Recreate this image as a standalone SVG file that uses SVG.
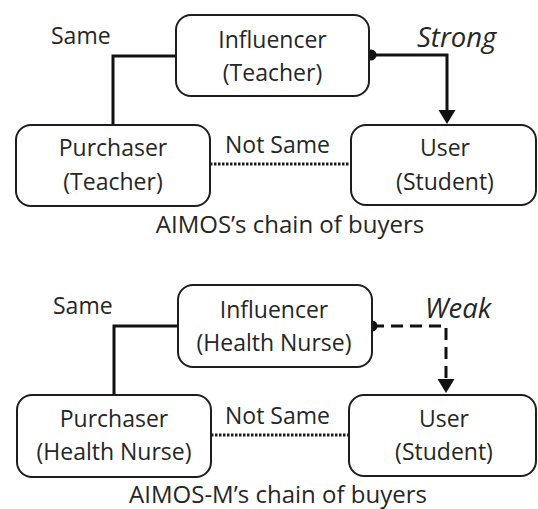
<svg xmlns="http://www.w3.org/2000/svg" width="538" height="509" viewBox="0 0 538 509">
  <style>
    .box { fill: #fff; stroke: #1e1e1e; stroke-width: 2; }
    .t { font-family: "Open Sans", "Noto Sans", sans-serif; font-size: 23px; fill: #262626; text-anchor: middle; }
    .cap { font-size: 24px; }
    .lbl { font-family: "Open Sans", "Noto Sans", sans-serif; font-size: 23px; fill: #262626; }
    .it { font-style: italic; font-size: 27.5px; }
    .solid { fill: none; stroke: #111; stroke-width: 3; }
    .dot { fill: none; stroke: #1a1a1a; stroke-width: 3; stroke-dasharray: 2.5 1.5; }
    .dash { fill: none; stroke: #111; stroke-width: 3; stroke-dasharray: 12 7; }
    .joint { fill: #111; }
  </style>

  <!-- upper chain: AIMOS -->
  <g id="connectors-aimos">
    <polyline class="solid" points="176,56 113,56 113,125"/>
    <line class="dot" x1="210" y1="164" x2="351" y2="164"/>
    <polyline class="solid" points="371,55 447,55 447,110"/>
    <path d="M438.5,110 L455.5,110 L447,124 Z" fill="#111"/>
    <circle class="joint" cx="371" cy="55" r="5.5"/>
  </g>
  <g id="influencer-teacher">
    <rect class="box" x="176" y="15" width="193" height="81" rx="15"/>
    <text class="t" x="272.5" y="48">Influencer</text>
    <text class="t" x="272.5" y="81">(Teacher)</text>
  </g>
  <g id="purchaser-teacher">
    <rect class="box" x="16" y="125" width="194" height="81" rx="15"/>
    <text class="t" x="113" y="156">Purchaser</text>
    <text class="t" x="113" y="190">(Teacher)</text>
  </g>
  <g id="user-student-1">
    <rect class="box" x="351" y="125" width="185" height="80" rx="15"/>
    <text class="t" x="445" y="156">User</text>
    <text class="t" x="445" y="190">(Student)</text>
  </g>
  <text class="lbl" x="51" y="44">Same</text>
  <text class="lbl it" x="417" y="47">Strong</text>
  <text class="lbl" x="225" y="153">Not Same</text>
  <text class="t cap" x="290" y="233">AIMOS’s chain of buyers</text>

  <!-- lower chain: AIMOS-M -->
  <g id="connectors-aimos-m">
    <polyline class="solid" points="178,326 114,326 114,395"/>
    <line class="dot" x1="211" y1="435" x2="349" y2="435"/>
    <polyline class="dash" points="372,326 446,326 446,379"/>
    <path d="M437.5,379 L454.5,379 L446,393 Z" fill="#111"/>
    <circle class="joint" cx="372" cy="326" r="5.5"/>
  </g>
  <g id="influencer-nurse">
    <rect class="box" x="178" y="285" width="194" height="82" rx="15"/>
    <text class="t" x="274" y="318">Influencer</text>
    <text class="t" x="274" y="351">(Health Nurse)</text>
  </g>
  <g id="purchaser-nurse">
    <rect class="box" x="17" y="395" width="194" height="82" rx="15"/>
    <text class="t" x="114" y="427">Purchaser</text>
    <text class="t" x="114" y="460">(Health Nurse)</text>
  </g>
  <g id="user-student-2">
    <rect class="box" x="349" y="395" width="187" height="81" rx="15"/>
    <text class="t" x="444" y="427">User</text>
    <text class="t" x="444" y="460">(Student)</text>
  </g>
  <text class="lbl" x="53" y="314">Same</text>
  <text class="lbl it" x="425" y="318">Weak</text>
  <text class="lbl" x="225" y="424">Not Same</text>
  <text class="t cap" x="278" y="503">AIMOS-M’s chain of buyers</text>
</svg>
